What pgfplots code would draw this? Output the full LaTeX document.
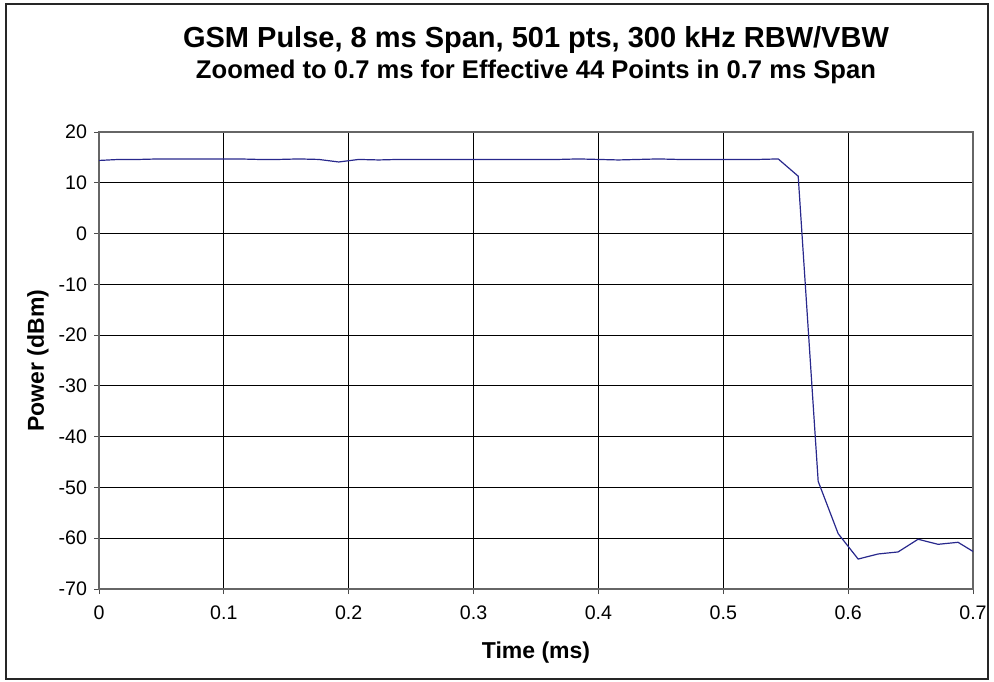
\documentclass[border=0pt]{standalone}
\usepackage{fontspec}
\setmainfont{Liberation Sans}
\usepackage{pgfplots}
\pgfplotsset{compat=1.18}
\definecolor{pulse}{RGB}{40,40,140}

\begin{document}
\begin{tikzpicture}
\begin{axis}[
  name=ax, at={(0,0)}, anchor=south west,
  scale only axis,
  width=437pt, height=228.5pt,
  xmin=0, xmax=0.7,
  ymin=-70, ymax=20,
  xtick={0,0.1,...,0.7},
  ytick={-70,-60,...,20},
  tick pos=left, tick align=outside,
  major tick length=2.5pt,
  grid=major,
  major grid style={black, line width=0.5pt},
  axis line style={black!60, line width=0.6pt},
  tick style={black!70, line width=0.5pt},
  /pgf/number format/assume math mode=true,
  ticklabel style={font=\fontsize{9.8}{11}\selectfont},
  xticklabel style={yshift=-2.5pt},
  xlabel={Time (ms)},
  ylabel={Power (dBm)},
  label style={font=\fontsize{11.5}{13}\selectfont\bfseries},
  xlabel style={at={(rel axis cs:0.5,-0.138)}, anchor=center},
  ylabel style={at={(rel axis cs:-0.07,0.5)}, anchor=center},
  clip=true,
]
\addplot[color=pulse, line width=0.6pt] coordinates {
  (0.000, 14.4) (0.016, 14.6) (0.032, 14.6) (0.048, 14.7) (0.064, 14.7)
  (0.080, 14.7) (0.096, 14.7) (0.112, 14.7) (0.128, 14.6) (0.144, 14.6)
  (0.160, 14.7) (0.176, 14.6) (0.192, 14.1) (0.208, 14.6) (0.224, 14.5)
  (0.240, 14.6) (0.256, 14.6) (0.272, 14.6) (0.288, 14.6) (0.304, 14.6)
  (0.320, 14.6) (0.336, 14.6) (0.352, 14.6) (0.368, 14.6) (0.384, 14.7)
  (0.400, 14.6) (0.416, 14.5) (0.432, 14.6) (0.448, 14.7) (0.464, 14.6)
  (0.480, 14.6) (0.496, 14.6) (0.512, 14.6) (0.528, 14.6) (0.544, 14.7)
  (0.560, 11.3) (0.576, -48.8) (0.592, -59.1) (0.608, -64.1) (0.624, -63.1)
  (0.640, -62.7) (0.656, -60.2) (0.672, -61.2) (0.688, -60.8) (0.704, -63.2)
};
\end{axis}
% title lines, placed above the plot area
\node[font=\fontsize{14.5}{16}\selectfont\bfseries] at ([yshift=274.5pt]ax.south) {GSM Pulse, 8 ms Span, 501 pts, 300 kHz RBW/VBW};
\node[font=\fontsize{12.8}{14}\selectfont\bfseries] at ([yshift=258.5pt]ax.south) {Zoomed to 0.7 ms for Effective 44 Points in 0.7 ms Span};
% chart frame
\draw[black!85, line width=0.6pt] (-46.5pt,-45pt) rectangle (444.5pt,292.5pt);
\useasboundingbox (-49.5pt,-46pt) rectangle (447.5pt,294.5pt);
\end{tikzpicture}
\end{document}
